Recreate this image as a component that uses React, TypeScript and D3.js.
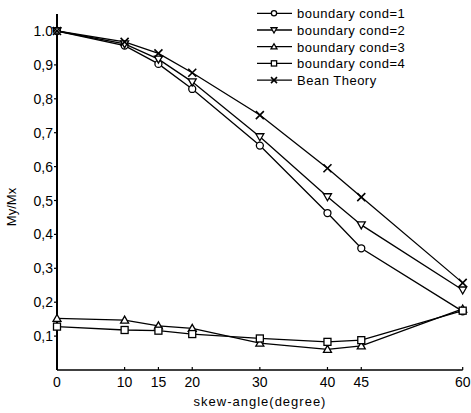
import React, { useEffect, useRef } from "react";
import * as d3 from "d3";

const angles = [0, 10, 15, 20, 30, 40, 45, 60];
const cond1 = [1.0, 0.957, 0.903, 0.829, 0.662, 0.463, 0.359, 0.173];
const cond2 = [1.0, 0.962, 0.917, 0.85, 0.688, 0.511, 0.428, 0.236];
const cond3 = [0.152, 0.147, 0.13, 0.123, 0.079, 0.061, 0.071, 0.18];
const cond4 = [0.128, 0.118, 0.116, 0.106, 0.093, 0.083, 0.088, 0.175];
const bean = [1.0, 0.968, 0.934, 0.877, 0.752, 0.595, 0.51, 0.257];

const yTicks = [0.1, 0.2, 0.3, 0.4, 0.5, 0.6, 0.7, 0.8, 0.9, 1.0];
const yTickLabels = ["0,1", "0,2", "0,3", "0,4", "0,5", "0,6", "0,7", "0,8", "0,9", "1.0"];
const xTicks = [0, 10, 15, 20, 30, 40, 45, 60];

const series = [
  { name: "boundary cond=1", values: cond1, marker: "circle" },
  { name: "boundary cond=2", values: cond2, marker: "tridown" },
  { name: "boundary cond=3", values: cond3, marker: "triup" },
  { name: "boundary cond=4", values: cond4, marker: "square" },
  { name: "Bean Theory", values: bean, marker: "cross" },
];

const FONT = "'Liberation Sans', Arial, sans-serif";

function drawMarker(g: any, kind: string, cx: number, cy: number, k = 1) {
  const s = g.append("g").attr("transform", `translate(${cx},${cy}) scale(${k})`);
  const st = (sel: any) => sel.attr("fill", "#fff").attr("stroke", "#000").attr("stroke-width", 1.3 / k);
  if (kind === "circle") st(s.append("circle").attr("r", 3.5));
  else if (kind === "square") st(s.append("rect").attr("x", -3.5).attr("y", -3.5).attr("width", 7).attr("height", 7));
  else if (kind === "tridown") st(s.append("path").attr("d", "M-4,-3L4,-3L0,4Z"));
  else if (kind === "triup") st(s.append("path").attr("d", "M-4,3L4,3L0,-4Z"));
  else if (kind === "cross")
    s.append("path").attr("d", "M-4,-4L4,4M-4,4L4,-4").attr("stroke", "#000").attr("stroke-width", 1.6 / k);
}

export default function App() {
  const ref = useRef<SVGSVGElement>(null);

  useEffect(() => {
    const svg = d3.select(ref.current);
    svg.selectAll("*").remove();

    const x = d3.scaleLinear().domain([0, 60]).range([57, 462.7]);
    const y = d3.scaleLinear().domain([0, 1]).range([370, 31]);

    // axes
    svg.append("line").attr("x1", x(0)).attr("x2", x(0)).attr("y1", y(0)).attr("y2", y(1.05))
      .attr("stroke", "#000").attr("stroke-width", 2);
    svg.append("line").attr("x1", x(0)).attr("x2", x(60)).attr("y1", y(0)).attr("y2", y(0))
      .attr("stroke", "#000").attr("stroke-width", 1.6);

    yTicks.forEach((t, i) => {
      svg.append("line").attr("x1", x(0) - 3).attr("x2", x(0)).attr("y1", y(t)).attr("y2", y(t))
        .attr("stroke", "#000").attr("stroke-width", 1.2);
      svg.append("text").attr("x", x(0) - 4).attr("y", y(t) + 5).attr("text-anchor", "end")
        .attr("font-family", FONT).attr("font-size", 14).text(yTickLabels[i]);
    });

    xTicks.forEach((t) => {
      svg.append("line").attr("x1", x(t)).attr("x2", x(t)).attr("y1", y(0)).attr("y2", y(0) - 3)
        .attr("stroke", "#000").attr("stroke-width", 1.2);
      svg.append("text").attr("x", x(t)).attr("y", 387).attr("text-anchor", "middle")
        .attr("font-family", FONT).attr("font-size", 14).text(String(t));
    });

    svg.append("text").attr("x", 260).attr("y", 406).attr("text-anchor", "middle")
      .attr("font-family", FONT).attr("font-size", 13).attr("letter-spacing", 1)
      .text("skew-angle(degree)");

    svg.append("text").attr("transform", "translate(16,207) rotate(-90)").attr("text-anchor", "middle")
      .attr("font-family", FONT).attr("font-size", 13).text("My/Mx");

    const line = d3.line<number>().x((_, i) => x(angles[i])).y((d) => y(d));

    series.forEach((s) => {
      svg.append("path").attr("d", line(s.values)).attr("fill", "none")
        .attr("stroke", "#000").attr("stroke-width", 1.3);
    });
    series.forEach((s) => {
      s.values.forEach((v, i) => drawMarker(svg, s.marker, x(angles[i]), y(v)));
    });

    // legend
    series.forEach((s, i) => {
      const ly = 13.3 + i * 16.7;
      svg.append("line").attr("x1", 257).attr("x2", 292).attr("y1", ly).attr("y2", ly)
        .attr("stroke", "#000").attr("stroke-width", 1.3);
      drawMarker(svg, s.marker, 274, ly, 0.75);
      svg.append("text").attr("x", 297).attr("y", ly + 5).attr("font-family", FONT)
        .attr("font-size", 13).attr("letter-spacing", 0.5).text(s.name);
    });
  }, []);

  return <svg ref={ref} width={471} height={413} style={{ position: "absolute", left: 0, top: 0, background: "#fff" }} />;
}
